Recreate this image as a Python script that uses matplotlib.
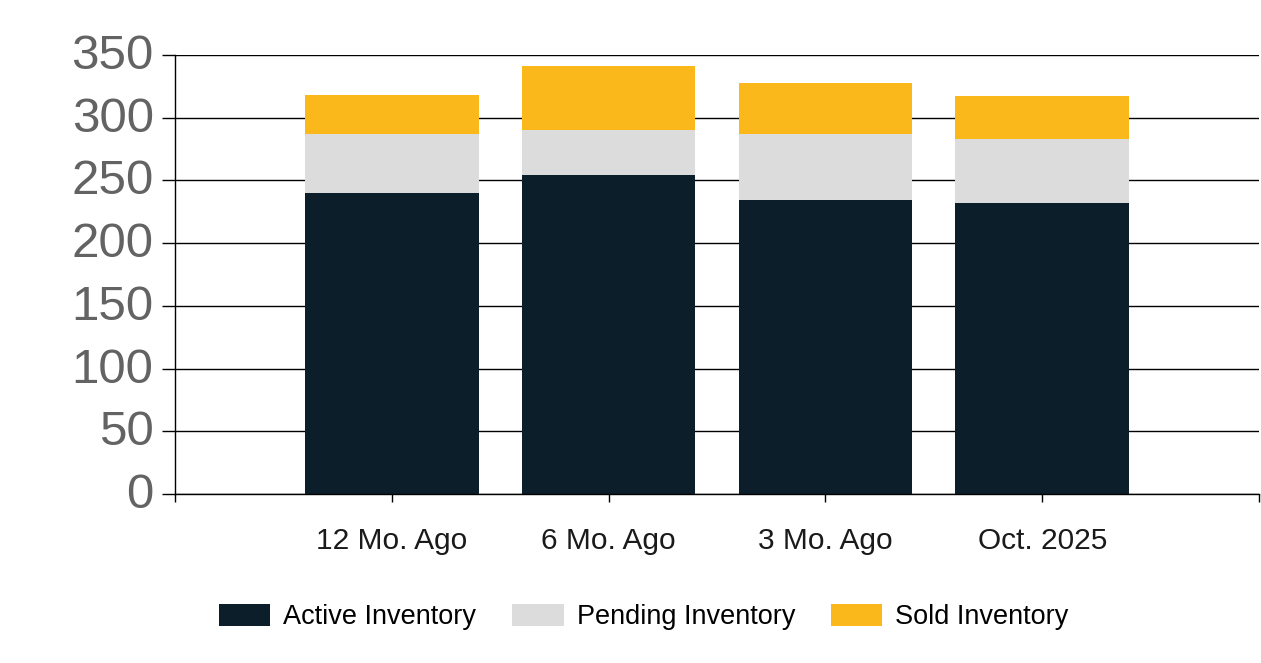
import matplotlib
matplotlib.use("Agg")
import matplotlib.pyplot as plt
import matplotlib.transforms as mtransforms
import numpy as np

categories = ["12 Mo. Ago", "6 Mo. Ago", "3 Mo. Ago", "Oct. 2025"]
active = [240, 254, 234, 232]
pending = [47, 36, 53, 51]
sold = [31, 51, 41, 34]
series_names = ["Active Inventory", "Pending Inventory", "Sold Inventory"]
colors = ["#0b1e29", "#dcdcdc", "#fbb81b"]

plt.rcParams['font.family'] = ['Liberation Sans', 'DejaVu Sans']

fig = plt.figure(figsize=(12.61, 6.63), dpi=100)
ax = fig.add_axes([175/1261, 1 - 494/663, (1259 - 175)/1261, (494 - 55)/663])

x = np.arange(len(categories))
w = 0.8
b1 = ax.bar(x, active, w, color=colors[0], label=series_names[0], zorder=3)
bottom2 = np.array(active)
b2 = ax.bar(x, pending, w, bottom=bottom2, color=colors[1], label=series_names[1], zorder=3)
bottom3 = bottom2 + np.array(pending)
b3 = ax.bar(x, sold, w, bottom=bottom3, color=colors[2], label=series_names[2], zorder=3)

ax.set_xlim(-1, len(categories))
ax.set_ylim(0, 350)
ax.set_yticks(np.arange(0, 351, 50))
ax.tick_params(axis='y', labelsize=35.5, labelcolor='#636363', length=9.4, width=1, color='black', pad=6)
ax.set_xticks(np.arange(-1, len(categories) + 1))
ax.set_xticklabels([""] + categories + [""])
ax.tick_params(axis='x', labelsize=21.5, labelcolor='#1a1a1a', length=5.8, width=1, color='black', pad=18)
ax.yaxis.grid(True, color='black', linewidth=1, zorder=0)
ax.set_axisbelow(True)
for s in ['top', 'right']:
    ax.spines[s].set_visible(False)
for s in ['left', 'bottom']:
    ax.spines[s].set_color('black')
    ax.spines[s].set_linewidth(1)
    ax.spines[s].set_zorder(4)

offset = mtransforms.ScaledTranslation(0, 3.5/100, fig.dpi_scale_trans)
for lbl in ax.get_yticklabels():
    lbl.set_transform(lbl.get_transform() + offset)

fig.legend(handles=[b1, b2, b3], labels=series_names, loc='center',
           bbox_to_anchor=(644/1261, 1 - 617/663), ncol=3, frameon=False,
           fontsize=19.5, handlelength=1.89, handleheight=0.85,
           handletextpad=0.48, columnspacing=1.33, borderaxespad=0)

fig.savefig("out.png", dpi=100)
